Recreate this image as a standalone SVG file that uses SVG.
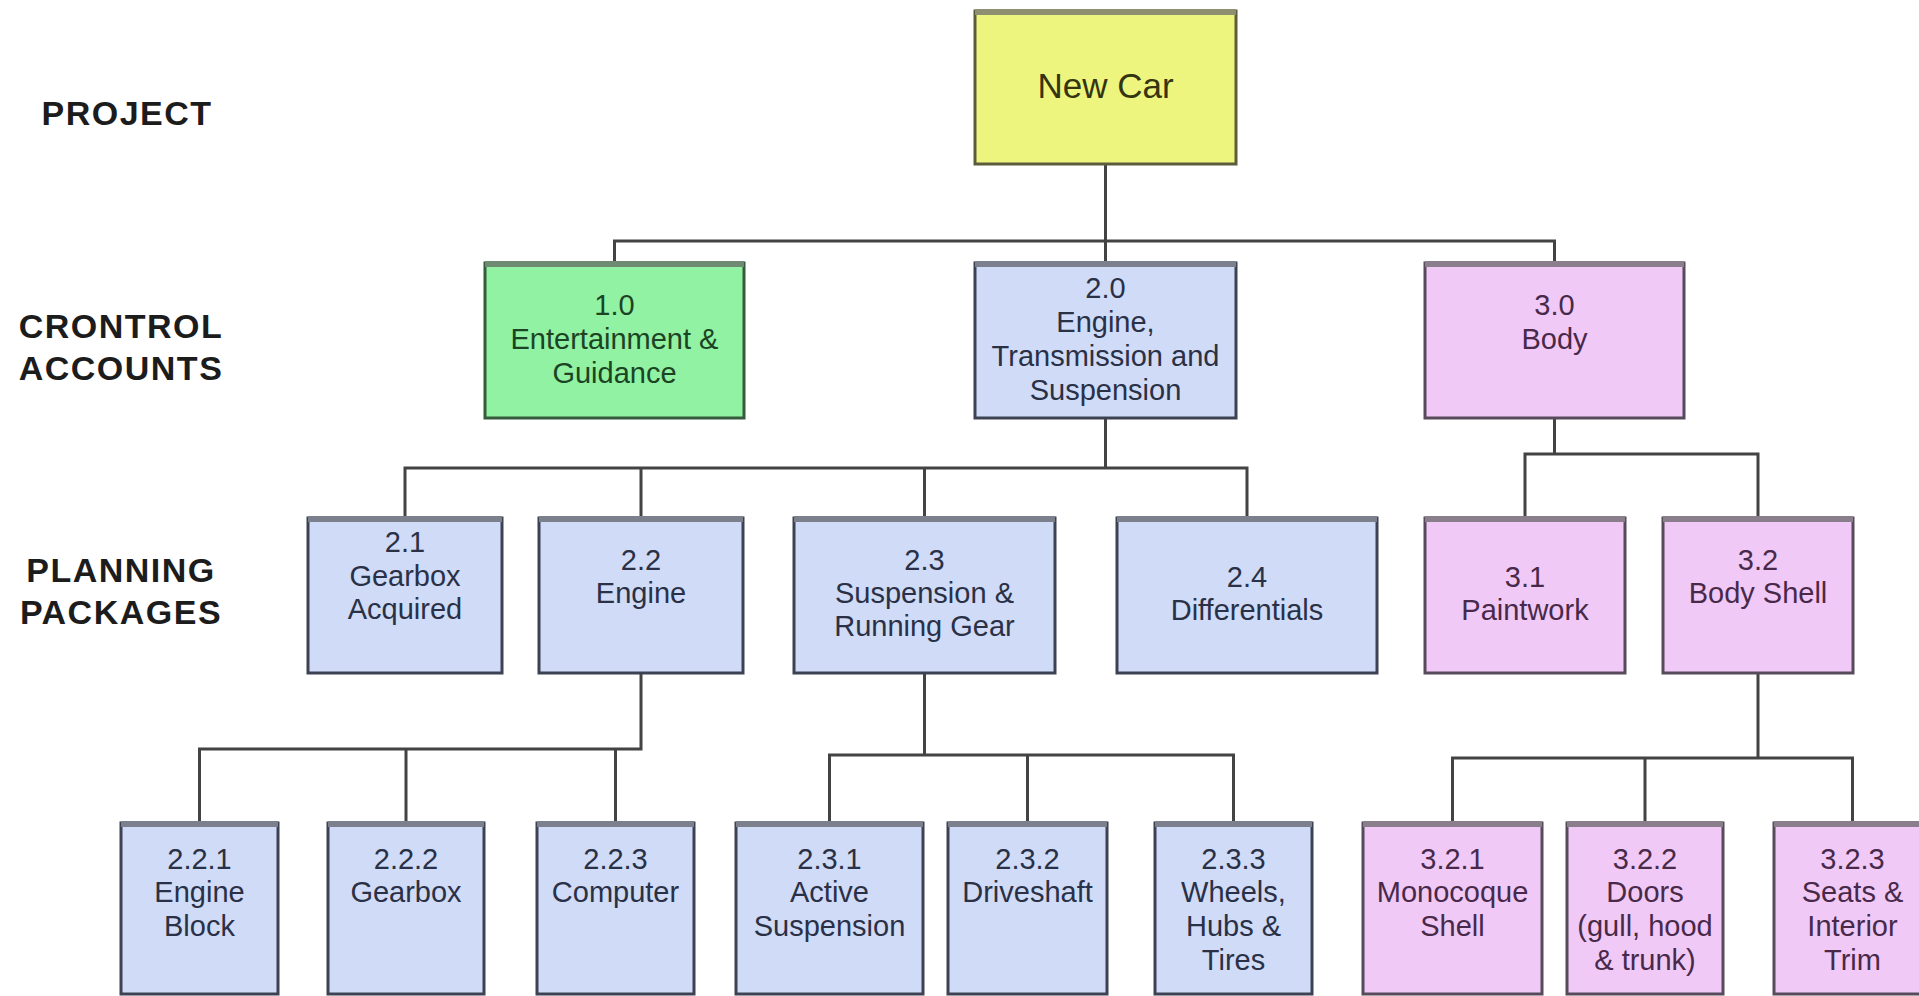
<svg xmlns="http://www.w3.org/2000/svg" width="1919" height="996" viewBox="0 0 1919 996">
  <style>
    .lvl { font-family: "Liberation Sans", Arial, sans-serif; font-weight: bold; font-size: 34px; letter-spacing: 1.5px; fill: #1c1c1c; text-anchor: middle; }
    .t { font-family: "Liberation Sans", Arial, sans-serif; font-size: 29px; text-anchor: middle; }
    .big { font-size: 35px; }
    .box { stroke-width: 3; }
    .top { stroke-width: 6; }
    .yel .box { fill: #eef57e; stroke: #5c5c3c; }
    .yel .top { stroke: #8e8e70; }
    .yel .t { fill: #34340f; }
    .grn .box { fill: #90f2a2; stroke: #365a3c; }
    .grn .top { stroke: #6f8a72; }
    .grn .t { fill: #1c4424; }
    .blu .box { fill: #cfdbf7; stroke: #3c4252; }
    .blu .top { stroke: #7c808c; }
    .blu .t { fill: #2a3046; }
    .pnk .box { fill: #f0c9f6; stroke: #574a5a; }
    .pnk .top { stroke: #8a7e8c; }
    .pnk .t { fill: #48294a; }
    .conn path { fill: none; stroke: #434343; stroke-width: 3; }
  </style>
  <rect width="1919" height="996" fill="#ffffff"/>

  <!-- level captions -->
  <g id="captions">
    <text class="lvl" x="127" y="125">PROJECT</text>
    <text class="lvl" x="121" y="338">CRONTROL</text>
    <text class="lvl" x="121" y="380">ACCOUNTS</text>
    <text class="lvl" x="121" y="582">PLANNING</text>
    <text class="lvl" x="121" y="624">PACKAGES</text>
  </g>

  <!-- tree connectors -->
  <g id="connectors" class="conn">
    <path d="M1105.5 164V263M614.5 263V241H1554.5V263"/>
    <path d="M1105.5 418V468M405 518V468H1247V518M641 468V518M924.5 468V518"/>
    <path d="M1554.5 418V454M1525 518V454H1758V518"/>
    <path d="M641 673V749H199.5V823M406 749V823M615.5 749V823"/>
    <path d="M924.5 673V755M829.5 823V755H1233.5V823M1027.5 755V823"/>
    <path d="M1758 673V758M1452.5 823V758H1852.5V823M1645 758V823"/>
  </g>

  <!-- project -->
  <g id="n-newcar" class="yel">
    <rect class="box" x="975" y="11" width="261" height="153"/>
    <line class="top" x1="975" y1="12" x2="1236" y2="12"/>
    <text class="t big" x="1105.5" y="98">New Car</text>
  </g>

  <!-- control accounts -->
  <g id="n-1-0" class="grn">
    <rect class="box" x="485" y="263" width="259" height="155"/>
    <line class="top" x1="485" y1="264" x2="744" y2="264"/>
    <text class="t" x="614.5" y="315">1.0</text>
    <text class="t" x="614.5" y="349">Entertainment &amp;</text>
    <text class="t" x="614.5" y="383">Guidance</text>
  </g>
  <g id="n-2-0" class="blu">
    <rect class="box" x="975" y="263" width="261" height="155"/>
    <line class="top" x1="975" y1="264" x2="1236" y2="264"/>
    <text class="t" x="1105.5" y="298">2.0</text>
    <text class="t" x="1105.5" y="332">Engine,</text>
    <text class="t" x="1105.5" y="366">Transmission and</text>
    <text class="t" x="1105.5" y="400">Suspension</text>
  </g>
  <g id="n-3-0" class="pnk">
    <rect class="box" x="1425" y="263" width="259" height="155"/>
    <line class="top" x1="1425" y1="264" x2="1684" y2="264"/>
    <text class="t" x="1554.5" y="315">3.0</text>
    <text class="t" x="1554.5" y="349">Body</text>
  </g>

  <!-- planning packages -->
  <g id="n-2-1" class="blu">
    <rect class="box" x="308" y="518" width="194" height="155"/>
    <line class="top" x1="308" y1="519" x2="502" y2="519"/>
    <text class="t" x="405" y="552">2.1</text>
    <text class="t" x="405" y="586">Gearbox</text>
    <text class="t" x="405" y="619">Acquired</text>
  </g>
  <g id="n-2-2" class="blu">
    <rect class="box" x="539" y="518" width="204" height="155"/>
    <line class="top" x1="539" y1="519" x2="743" y2="519"/>
    <text class="t" x="641" y="570">2.2</text>
    <text class="t" x="641" y="603">Engine</text>
  </g>
  <g id="n-2-3" class="blu">
    <rect class="box" x="794" y="518" width="261" height="155"/>
    <line class="top" x1="794" y1="519" x2="1055" y2="519"/>
    <text class="t" x="924.5" y="570">2.3</text>
    <text class="t" x="924.5" y="603">Suspension &amp;</text>
    <text class="t" x="924.5" y="636">Running Gear</text>
  </g>
  <g id="n-2-4" class="blu">
    <rect class="box" x="1117" y="518" width="260" height="155"/>
    <line class="top" x1="1117" y1="519" x2="1377" y2="519"/>
    <text class="t" x="1247" y="587">2.4</text>
    <text class="t" x="1247" y="620">Differentials</text>
  </g>
  <g id="n-3-1" class="pnk">
    <rect class="box" x="1425" y="518" width="200" height="155"/>
    <line class="top" x1="1425" y1="519" x2="1625" y2="519"/>
    <text class="t" x="1525" y="587">3.1</text>
    <text class="t" x="1525" y="620">Paintwork</text>
  </g>
  <g id="n-3-2" class="pnk">
    <rect class="box" x="1663" y="518" width="190" height="155"/>
    <line class="top" x1="1663" y1="519" x2="1853" y2="519"/>
    <text class="t" x="1758" y="570">3.2</text>
    <text class="t" x="1758" y="603">Body Shell</text>
  </g>

  <!-- work packages -->
  <g id="n-2-2-1" class="blu">
    <rect class="box" x="121" y="823" width="157" height="171"/>
    <line class="top" x1="121" y1="824" x2="278" y2="824"/>
    <text class="t" x="199.5" y="869">2.2.1</text>
    <text class="t" x="199.5" y="902">Engine</text>
    <text class="t" x="199.5" y="936">Block</text>
  </g>
  <g id="n-2-2-2" class="blu">
    <rect class="box" x="328" y="823" width="156" height="171"/>
    <line class="top" x1="328" y1="824" x2="484" y2="824"/>
    <text class="t" x="406" y="869">2.2.2</text>
    <text class="t" x="406" y="902">Gearbox</text>
  </g>
  <g id="n-2-2-3" class="blu">
    <rect class="box" x="537" y="823" width="157" height="171"/>
    <line class="top" x1="537" y1="824" x2="694" y2="824"/>
    <text class="t" x="615.5" y="869">2.2.3</text>
    <text class="t" x="615.5" y="902">Computer</text>
  </g>
  <g id="n-2-3-1" class="blu">
    <rect class="box" x="736" y="823" width="187" height="171"/>
    <line class="top" x1="736" y1="824" x2="923" y2="824"/>
    <text class="t" x="829.5" y="869">2.3.1</text>
    <text class="t" x="829.5" y="902">Active</text>
    <text class="t" x="829.5" y="936">Suspension</text>
  </g>
  <g id="n-2-3-2" class="blu">
    <rect class="box" x="948" y="823" width="159" height="171"/>
    <line class="top" x1="948" y1="824" x2="1107" y2="824"/>
    <text class="t" x="1027.5" y="869">2.3.2</text>
    <text class="t" x="1027.5" y="902">Driveshaft</text>
  </g>
  <g id="n-2-3-3" class="blu">
    <rect class="box" x="1155" y="823" width="157" height="171"/>
    <line class="top" x1="1155" y1="824" x2="1312" y2="824"/>
    <text class="t" x="1233.5" y="869">2.3.3</text>
    <text class="t" x="1233.5" y="902">Wheels,</text>
    <text class="t" x="1233.5" y="936">Hubs &amp;</text>
    <text class="t" x="1233.5" y="970">Tires</text>
  </g>
  <g id="n-3-2-1" class="pnk">
    <rect class="box" x="1363" y="823" width="179" height="171"/>
    <line class="top" x1="1363" y1="824" x2="1542" y2="824"/>
    <text class="t" x="1452.5" y="869">3.2.1</text>
    <text class="t" x="1452.5" y="902">Monocoque</text>
    <text class="t" x="1452.5" y="936">Shell</text>
  </g>
  <g id="n-3-2-2" class="pnk">
    <rect class="box" x="1567" y="823" width="156" height="171"/>
    <line class="top" x1="1567" y1="824" x2="1723" y2="824"/>
    <text class="t" x="1645" y="869">3.2.2</text>
    <text class="t" x="1645" y="902">Doors</text>
    <text class="t" x="1645" y="936">(gull, hood</text>
    <text class="t" x="1645" y="970">&amp; trunk)</text>
  </g>
  <g id="n-3-2-3" class="pnk">
    <rect class="box" x="1774" y="823" width="157" height="171"/>
    <line class="top" x1="1774" y1="824" x2="1931" y2="824"/>
    <text class="t" x="1852.5" y="869">3.2.3</text>
    <text class="t" x="1852.5" y="902">Seats &amp;</text>
    <text class="t" x="1852.5" y="936">Interior</text>
    <text class="t" x="1852.5" y="970">Trim</text>
  </g>
</svg>
